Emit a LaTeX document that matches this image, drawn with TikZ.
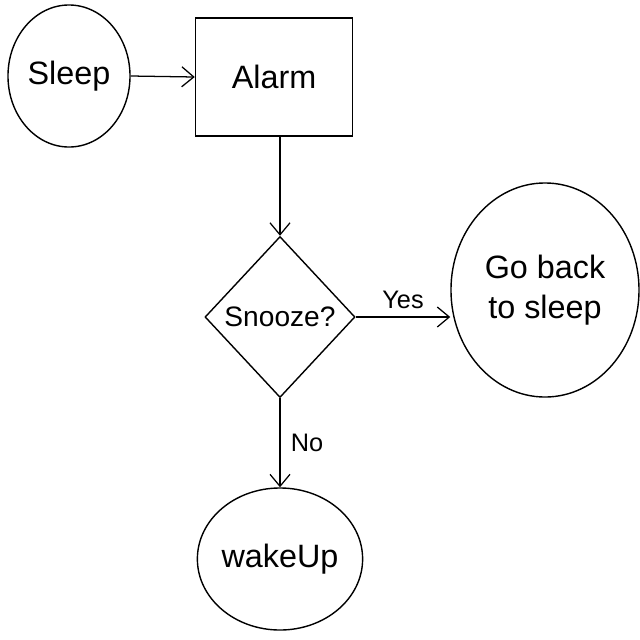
\documentclass[tikz,border=0pt]{standalone}
\usepackage{fontspec}
\setmainfont{Liberation Sans}
\usetikzlibrary{shapes.geometric}
\usetikzlibrary{arrows.meta}
\usetikzlibrary{positioning}

\begin{document}
\begin{tikzpicture}[
		x=0.025cm, y=-0.025cm,
		every node/.style={font=\fontsize{23}{28}\selectfont},
		state/.style={draw, ellipse, line width=1pt, align=center, inner sep=0pt},
		box/.style={draw, line width=1pt, minimum width=3.925cm, minimum height=2.95cm},
		choice/.style={draw, diamond, line width=1pt, minimum width=3.75cm, minimum height=4.025cm, inner sep=0pt, font=\fontsize{20}{24}\selectfont},
		flow/.style={draw, line width=0.9pt, -{Straight Barb[length=3mm, width=5mm]}},
		answer/.style={font=\fontsize{18}{21}\selectfont}
	]
	\useasboundingbox (0,0) rectangle (640,640);

	% Sleep, Alarm
	\node[state, minimum width=3.05cm, minimum height=3.55cm] (sleep) at (69,76) {Sleep};
	\node[box] (alarm) at (274,77) {Alarm};

	% Decision
	\node[choice] (snooze) at (280,317) {Snooze?};

	% Outcomes
	\node[state, minimum width=4.7cm, minimum height=5.35cm] (goback) at (545,290) {Go back\\to sleep};
	\node[state, minimum width=2.7cm, minimum height=3.55cm] (wakeup) at (280,559) {wakeUp};

	% Arrows
	\draw[flow] (sleep.east) -- (alarm.west);
	\draw[flow] (alarm.south -| snooze.north) -- (snooze.north);
	\draw[flow] (snooze.east) -- node[answer, above=2pt] (yes) {Yes} (goback.west |- snooze.east);
	\draw[flow] (snooze.south) -- node[answer, right=4pt] (no) {No} (wakeup.north);

\end{tikzpicture}
\end{document}
